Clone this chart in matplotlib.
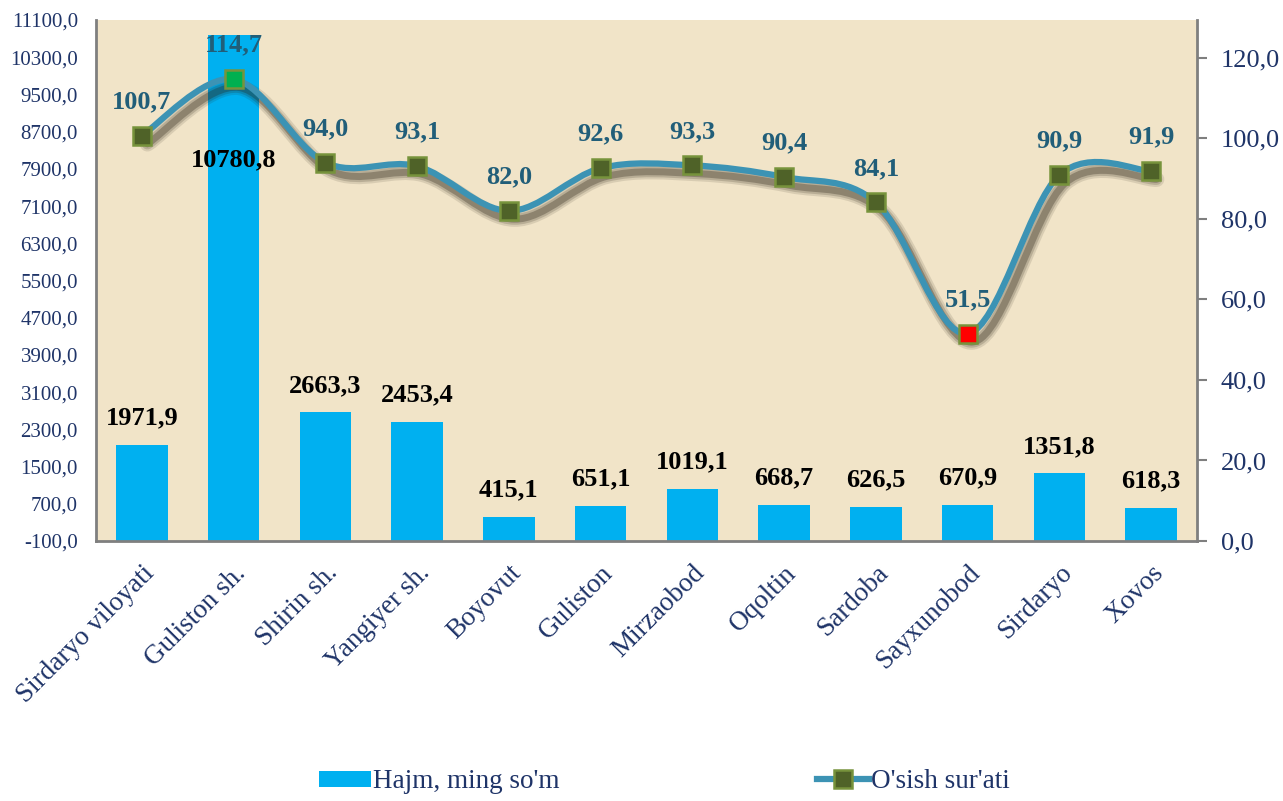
import numpy as np
import matplotlib
matplotlib.use("Agg")
import matplotlib.pyplot as plt
import matplotlib.patheffects as pe
from matplotlib.path import Path
from matplotlib.patches import PathPatch
from matplotlib.lines import Line2D
from matplotlib.patches import Patch

# ma'lumotlar
districts = ["Sirdaryo viloyati", "Guliston sh.", "Shirin sh.", "Yangiyer sh.", "Boyovut",
             "Guliston", "Mirzaobod", "Oqoltin", "Sardoba", "Sayxunobod", "Sirdaryo", "Xovos"]
hajm = [1971.9, 10780.8, 2663.3, 2453.4, 415.1, 651.1, 1019.1, 668.7, 626.5, 670.9, 1351.8, 618.3]
osish = [100.7, 114.7, 94.0, 93.1, 82.0, 92.6, 93.3, 90.4, 84.1, 51.5, 90.9, 91.9]

left_ticks = np.arange(-100, 11101, 800)
right_ticks = np.arange(0, 121, 20)

plt.rcParams['font.family'] = ['Liberation Serif', 'DejaVu Serif']

navy = "#1F3468"
bar_c = "#00B0F0"
line_c = "#3C93B4"
lbl_c = "#215E79"
mk_fill = "#4F6228"
mk_edge = "#77933C"

def fmt(v):
    return f"{v:.1f}".replace(".", ",")

fig = plt.figure(figsize=(12.83, 8.01), dpi=100)
ax = fig.add_axes([0.0748, 0.3246, 0.8582, 0.6504])
ax.set_facecolor("#F1E4C8")

x = np.arange(len(districts))
base = left_ticks[0]
ax.bar(x, np.array(hajm) - base, bottom=base, width=0.56, color=bar_c, zorder=2)
ax.set_xlim(-0.5, len(districts) - 0.5)
ax.set_ylim(-100, 11100)
ax.set_yticks(left_ticks)
ax.set_yticklabels([fmt(v) for v in left_ticks], fontsize=15, color=navy)
ax.tick_params(axis="y", length=0, pad=13)
ax.set_xticks(x)
ax.set_xticklabels(districts, rotation=45, ha="right", va="top", rotation_mode="anchor",
                   fontsize=19.5, color=navy)
ax.tick_params(axis="x", length=0, pad=14)
for s in ["top", "right"]:
    ax.spines[s].set_visible(False)
for s in ["left", "bottom"]:
    ax.spines[s].set_color("#7F7F7F")
    ax.spines[s].set_linewidth(2)

# bar yorliqlari
for i, v in enumerate(hajm):
    dy = -125 if i == 1 else 27
    ax.annotate(fmt(v), (i, v), xytext=(0, dy), textcoords="offset pixels",
                ha="center", va="center", fontsize=19, fontweight="bold", color="black",
                zorder=5, annotation_clip=False)

ax2 = ax.twinx()
ax2.set_ylim(0, 129.4)
ax2.set_yticks(right_ticks)
ax2.set_yticklabels([fmt(v) for v in right_ticks], fontsize=19, color=navy)
ax2.tick_params(axis="y", length=7, width=1.5, color="#7F7F7F", pad=10)
for s in ["top", "left", "bottom"]:
    ax2.spines[s].set_visible(False)
ax2.spines["right"].set_color("#7F7F7F")
ax2.spines["right"].set_linewidth(2)

# silliq chiziq (Catmull-Rom -> Bezier)
pts = np.column_stack([x, osish]).astype(float)
verts = [pts[0]]
codes = [Path.MOVETO]
n = len(pts)
for i in range(n - 1):
    p0 = pts[i - 1] if i > 0 else pts[i]
    p1, p2 = pts[i], pts[i + 1]
    p3 = pts[i + 2] if i + 2 < n else pts[i + 1]
    c1 = p1 + (p2 - p0) / 6
    c2 = p2 - (p3 - p1) / 6
    verts += [c1, c2, p2]
    codes += [Path.CURVE4] * 3
shadow = [pe.SimpleLineShadow(offset=(4, -6), shadow_color="#2a2216", alpha=a, linewidth=w)
          for w, a in ((11, 0.12), (8, 0.18), (5, 0.3))]
curve = PathPatch(Path(verts, codes), facecolor="none", edgecolor=line_c, lw=4.5,
                  capstyle="round", zorder=3, path_effects=shadow + [pe.Normal()])
ax2.add_patch(curve)

imax = int(np.argmax(osish))
imin = int(np.argmin(osish))
fills = [mk_fill] * n
fills[imax] = "#00B050"
fills[imin] = "#FF0000"
for i, v in enumerate(osish):
    ax2.plot(i, v, marker="s", ms=12.5, mfc=fills[i], mec=mk_edge, mew=1.8, zorder=4, ls="none")
    ax2.annotate(fmt(v), (i, v), xytext=(0, 34), textcoords="offset pixels",
                 ha="center", va="center", fontsize=19, fontweight="bold", color=lbl_c,
                 zorder=6, annotation_clip=False)

handles = [Patch(facecolor=bar_c, edgecolor="none"),
           Line2D([0], [0], color=line_c, lw=4.5, marker="s", ms=12.5,
                  mfc=mk_fill, mec=mk_edge, mew=1.8)]
fig.legend(handles, ["Hajm, ming so'm", "O'sish sur'ati"], loc="lower center",
           bbox_to_anchor=(0.518, -0.022), ncol=2, frameon=False, fontsize=19.5,
           labelcolor=navy, columnspacing=9.5, handlelength=1.9, handletextpad=0.1,
           handleheight=0.55)

fig.savefig("out.png", dpi=100)
